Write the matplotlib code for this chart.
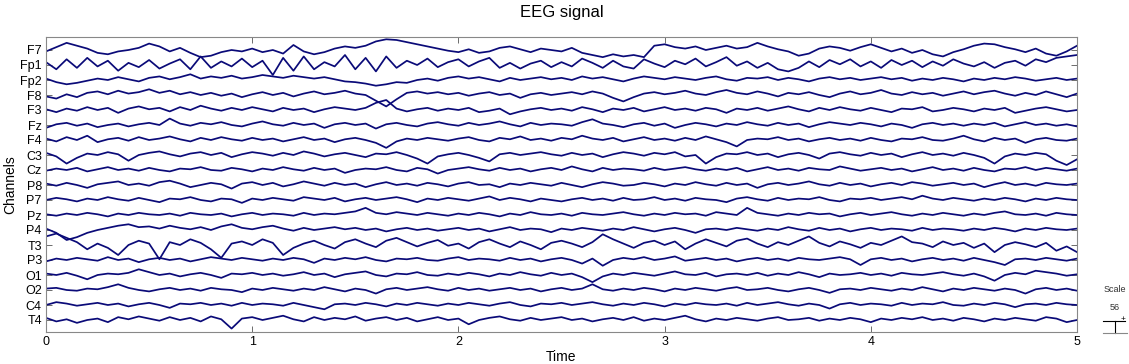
import numpy as np
import matplotlib
matplotlib.use("Agg")
import matplotlib.pyplot as plt
from matplotlib.lines import Line2D

plt.rcParams["font.family"] = ["Liberation Sans", "DejaVu Sans"]

# channel names, top to bottom
channels = ["F7", "Fp1", "Fp2", "F8", "F3", "Fz", "F4", "C3", "Cz", "P8",
            "P7", "Pz", "P4", "T3", "P3", "O1", "O2", "C4", "T4"]

# time axis: 0..5 s, 0.05 s step (101 samples)
t = np.arange(101) * 0.05

# traces, in display units (21 units = channel spacing)
F7 = [-2, 4, 10, 6, 2, -4, -6, -2, 0, 3,
      9, 5, -2, 3, -4, -10, -8, -3, 0, -2,
      2, -3, 0, -5, 7, -2, -6, -3, 2, 5,
      3, 6, 12, 15, 14, 11, 8, 5, 2, -1,
      -3, 1, -4, -2, 3, 5, 1, -3, 2, 0,
      -2, 3, -4, -7, -10, -6, -9, -7, -10, 6,
      8, 4, 2, 5, 0, 3, 6, 2, 4, 10,
      5, 1, -2, -8, -5, 2, 5, 3, -1, 4,
      8, 3, -2, 2, -4, 0, -6, -9, -3, 1,
      6, 9, 8, 4, 1, -3, 2, -5, -8, -2,
      6]
Fp1 = [4, -6, 8, -4, 10, -2, 6, -8, 3, -3,
       7, -5, 2, 8, -6, 12, -4, 5, -2, 9,
       -3, 6, -14, 10, -8, 12, -6, 4, -2, 14,
       -6, 10, -9, 12, -4, 6, 0, 9, -3, 4,
       8, -2, 5, 10, -4, 3, -5, 2, 6, -3,
       4, -2, 9, 3, -4, 6, -2, -5, 8, 2,
       -3, 6, 1, 9, -2, 4, 11, -1, 5, -4,
       3, -6, -9, -4, 5, -3, 7, 1, 8, -2,
       5, -4, 7, 0, 6, -3, 5, -1, 8, 2,
       -2, 4, -4, 3, 6, -1, 8, 4, 10, 12,
       14]
Fp2 = [2, -3, -6, -4, -1, 2, 0, 4, 1, -2,
       3, 5, 1, 4, 8, 2, 5, 3, 6, 2,
       4, 7, 5, 3, 6, 4, 2, 4, 1, -2,
       -3, -5, -8, -6, -3, -4, 0, 2, -1, 3,
       5, 2, 4, 1, -2, 3, 0, 2, 4, 1,
       3, 0, 5, 2, 4, 1, -2, 2, 5, 3,
       1, 4, 2, 0, 3, 5, 1, -1, 3, 2,
       4, 0, 3, 1, -2, 2, 4, 1, 3, 0,
       2, 4, 1, 3, -1, 2, 0, 3, 1, -2,
       2, 0, 3, 1, 4, 2, -1, 1, 3, 0,
       2]
F8 = [-2, -5, 1, -3, 3, 5, 1, 6, 2, 4,
      8, 3, 6, 1, 4, 0, 3, -1, 2, -3,
      1, 4, 0, 3, -2, 2, 5, 1, 3, 6,
      2, 0, -8, -16, -6, 3, 5, 2, 4, 1,
      3, -1, 2, 4, 0, 2, -4, 1, 3, 0,
      2, 4, 1, 5, 2, -4, -9, -3, 2, 4,
      1, 3, 6, 2, 0, 4, 7, 3, 1, 5,
      2, -2, 3, 1, 4, 0, -3, 2, 5, 1,
      3, 7, 2, 0, 4, 1, 3, -1, 2, 5,
      1, 4, 6, 2, -1, 3, 0, 5, 1, -3,
      2]
F3 = [1, -3, 2, -1, 4, 0, 3, -4, 2, 5,
      1, 3, -2, 4, 0, 6, 2, -1, 3, 0,
      4, 1, -2, 3, 0, 2, -3, 1, 4, 2,
      0, 3, 10, 14, 2, -2, 1, 3, -1, 2,
      0, 3, -3, -1, 2, -6, -2, 1, 3, 0,
      2, -1, 4, 1, -3, 2, 0, 3, -2, 1,
      4, 0, 2, -1, 3, 1, -4, 2, 0, 3,
      -1, 2, 5, 1, -2, 3, 0, 4, 1, -1,
      3, 0, -3, 2, 1, 4, -2, 0, 3, 1,
      -2, 2, 0, 3, -4, -1, 2, 4, 1, -2,
      0]
Fz = [-4, 1, 3, -1, 2, -3, 0, 2, -2, 1,
      3, 0, 9, 2, -1, 3, 1, 4, 0, -2,
      2, 5, 1, -1, 3, 0, 2, -4, 1, 3,
      0, 2, -5, 1, 3, 0, -2, 2, 4, 1,
      -1, 3, 0, 2, 5, 1, -2, 3, 0, 2,
      1, -1, 4, 8, 2, 0, -3, 1, 3, -1,
      2, -4, 0, 3, 1, -2, 2, 0, 4, 1,
      -1, 3, 0, 2, -3, 1, 4, 2, 0, 3,
      1, -2, 2, 0, -4, 1, 3, 0, 2, -1,
      2, 0, 3, -2, 1, 4, 0, 2, -1, 1,
      -2]
F4 = [2, -2, 4, 0, 6, -3, 1, 3, -1, 4,
      0, 2, 5, 1, -2, 3, 0, 4, 1, -1,
      3, 0, 2, -2, 1, 4, 0, 2, -3, 1,
      3, 0, -4, -11, -2, 2, 0, 3, 1, -1,
      2, 4, 0, -2, 3, 1, 5, 0, 2, -1,
      3, 1, 6, 2, 0, 3, -2, 1, 4, 0,
      2, -1, 3, 0, 5, 1, -3, -9, 0, 2,
      1, 4, 0, 2, -2, 1, 3, 0, 2, -1,
      3, 0, -2, 2, 1, 4, 0, -1, 2, 6,
      1, -2, 3, 0, 2, -4, 1, 3, 0, -1,
      2]
C3 = [3, -2, -12, -4, 2, 0, 4, 1, -8, 0,
      3, 5, 1, -2, 2, 4, 0, 3, -3, 1,
      4, 2, -1, 3, 0, 5, 2, -2, 1, 3,
      0, -3, 2, 1, 4, 0, -5, -12, -2, 1,
      3, 0, -4, -9, 1, 3, 0, 2, 4, 1,
      -1, 3, 0, 2, -3, 1, 4, 2, -1, 3,
      1, 4, -2, 0, -12, -3, 2, 1, 4, 0,
      2, -3, 1, 3, 0, -5, 2, 4, 1, -1,
      3, 0, 2, -3, 1, 4, 0, 2, -1, 3,
      0, -4, -12, -2, 2, 0, 3, 1, -8, -14,
      -6]
Cz = [-1, 2, 0, 3, -2, 1, 4, 0, 2, -1,
      3, 0, -2, 2, 1, 4, 0, -1, 3, 1,
      -2, 2, 0, 4, 1, -1, 3, 0, 2, -4,
      0, 2, 1, 4, 0, -2, 3, 1, -5, 0,
      2, 4, 1, -1, 3, 0, 2, -2, 1, 3,
      0, 5, 1, -2, 3, 0, 2, 1, -1, 3,
      0, 2, 4, 1, -1, 2, 0, 3, -2, 1,
      4, 0, 2, -1, 3, 1, 0, 5, 2, -1,
      1, 3, 0, 2, -2, 1, 4, 0, 2, -1,
      3, 0, -2, 2, 1, 4, 0, 3, 1, -1,
      2]
P8 = [2, -1, 3, 0, -4, 1, 3, 5, 0, 2,
      -1, 4, 6, 2, -3, 0, 3, 1, -5, 2,
      4, 0, 3, -2, 1, 5, 2, -1, 3, 0,
      2, -3, 1, 4, 0, 2, -1, 3, 1, -2,
      2, 4, 0, 1, -3, 2, 0, 3, 1, -1,
      3, 0, -3, 1, 4, 2, -1, 0, 3, 1,
      -2, 2, 0, 4, 1, -1, 3, 0, 2, -4,
      1, 3, 0, 2, 5, 1, -1, 3, 0, 2,
      -2, 1, 3, 0, 4, 2, -1, 1, 3, 0,
      2, -3, 1, 4, 0, 2, -1, 3, 1, 0,
      2]
P7 = [0, 3, 1, -2, 2, 0, 4, 1, -1, 3,
      0, -3, 2, 1, 4, 0, -2, 2, 1, -4,
      2, 0, 3, 1, -1, 4, 2, 0, 3, -2,
      1, 3, 0, 2, 4, 1, -3, 2, 0, 3,
      1, -1, 2, 5, 0, 3, 1, -2, 2, 0,
      -2, 1, 3, 0, 2, -1, 3, 0, 1, 4,
      0, 2, -1, 3, 1, 0, -3, 2, 4, 1,
      -1, 3, 0, 2, 1, 4, 0, -2, 2, 1,
      3, 0, 2, 4, 1, 6, 2, 0, 3, 1,
      -1, 2, 0, 3, 1, -2, 2, 0, 3, 1,
      0]
Pz = [1, -1, 2, 0, 3, 1, -2, 2, 0, 3,
      1, 0, 2, -1, 3, 1, 0, 2, -2, 1,
      3, 0, 2, 1, -1, 3, 0, 2, 1, 3,
      5, 10, 3, 1, 4, 2, 0, 3, 1, -1,
      2, 0, 3, 1, -2, 2, 0, 4, 1, 0,
      2, -1, 3, 1, 0, 2, 4, 1, -1, 2,
      0, 3, 1, 2, -1, 4, 2, 0, 10, 3,
      1, -1, 2, 0, 3, 1, 2, -2, 1, 3,
      0, 2, 4, 1, -1, 2, 0, 3, 1, -1,
      2, 0, 3, 5, 1, 0, 2, -1, 3, 1,
      0]
P4 = [2, -4, -14, -10, -4, 0, 3, 6, 8, 4,
      5, 2, 6, 3, 1, 4, 0, 5, 8, 3,
      1, 4, 6, 2, -1, 3, 0, 2, 4, 1,
      3, 0, 2, -2, 1, 3, 0, 2, -1, 1,
      3, 0, 2, -2, 1, 4, 0, 2, 1, -3,
      2, 0, 3, 1, -1, 2, 0, 4, 1, -2,
      1, 3, 0, -4, 1, 2, 0, 3, 1, -1,
      2, 0, 4, 1, -1, 3, 0, 2, -2, 1,
      3, 0, 2, 1, -1, 3, 0, 2, 1, -1,
      2, 0, 3, 1, -2, 2, 0, 3, 1, 0,
      2]
T3 = [12, 16, 10, 4, -6, 2, -4, -14, 0, 6,
      2, -20, 4, 0, 8, 3, -6, -18, 2, 5,
      0, 8, 3, -14, -4, 2, 6, 0, -5, 4,
      8, 2, -3, 6, 10, 4, -2, 3, 7, -1,
      2, -5, 4, 8, 2, -3, 5, 0, -6, 3,
      6, 2, -3, 4, 15, 8, 2, -4, 3, 6,
      0, 5, -6, 2, 8, 3, -2, 6, 9, 2,
      -3, 4, 0, 6, 12, 3, -2, 5, 1, -4,
      3, 0, 6, 12, 4, 2, -3, 5, 0, 3,
      -4, 2, -10, 0, 4, 1, -3, 3, -8, -2,
      -10]
P3 = [-2, 2, 0, 3, 1, -1, 4, 0, 2, -3,
      1, 3, 0, 2, -2, 1, 4, 2, 0, 3,
      1, -1, 2, 0, 3, 1, -4, 2, 0, 3,
      1, 4, 0, -2, 2, 1, 3, 0, -1, 2,
      4, 0, 2, 1, -1, 3, 0, 2, -2, 1,
      3, 0, -5, 2, -8, 0, 3, 1, 4, 0,
      2, 5, -1, 1, 3, 0, 2, -2, 1, 3,
      0, 2, -1, 3, 1, 0, 2, 4, 1, -7,
      1, 3, 0, 2, -2, 1, 3, 0, 2, -1,
      3, 0, -3, -7, 1, 2, 0, 3, 1, -1,
      2]
O1 = [2, 0, 3, -1, -6, 0, 2, 1, 3, 8,
      4, 0, 2, -2, 1, 3, 0, -4, 2, 1,
      3, 0, 2, -1, 1, 4, 0, 2, -3, 1,
      3, 5, 0, -2, 2, 1, 4, 0, -1, 2,
      0, 3, 1, -2, 2, 0, 4, 1, -1, 3,
      0, 2, -3, -10, -2, 2, 0, 3, 1, -1,
      2, 5, 1, 0, 3, -2, 1, 2, 0, 3,
      -1, 2, 0, 4, 1, -3, 2, 0, 1, 3,
      0, 2, -1, 3, 1, 0, 2, 4, 1, -1,
      2, -2, -8, 0, 3, 1, 6, 4, 2, -1,
      1]
O2 = [2, 3, 0, -1, 2, 1, 4, 8, 3, 0,
      -2, 1, 3, 0, 2, -1, 3, 1, 0, -3,
      2, 0, 3, 1, -1, 2, 0, 4, 1, -2,
      2, 0, -5, 1, 3, 0, 2, 4, 1, -1,
      3, 0, 2, -1, 1, 3, 0, 2, -2, 1,
      3, 0, 2, 8, 1, -1, 2, 0, 3, 1,
      -2, 2, 0, 3, 1, -1, 2, 4, 0, 1,
      3, 0, -2, 1, 3, 0, -4, 1, 2, 0,
      3, 1, -1, 2, 0, 4, 1, -2, 2, 0,
      3, 1, -1, 2, 0, -5, 1, 3, 0, 2,
      -1]
C4 = [0, 4, 2, -1, 1, 3, 0, 2, -2, 1,
      3, 0, -4, 2, 1, 3, 0, 2, -1, 3,
      0, 2, 1, -1, 3, 0, -3, -6, 1, 2,
      0, 3, 1, -2, 2, 0, 3, 1, -1, 2,
      0, 3, 1, -1, 2, 4, 0, -2, 2, 1,
      3, 0, 2, 4, 1, -1, 2, 0, 3, 1,
      -2, 2, 0, 3, 1, 0, 2, -1, 3, 0,
      2, 4, 1, -1, 2, 0, -5, 1, 3, 0,
      2, 1, -1, 3, 0, 2, 1, 4, 0, -1,
      2, 0, 3, 1, -3, 1, 2, 0, 3, 1,
      0]
T4 = [3, -2, 1, -4, 0, 2, -3, 4, 1, 5,
      2, -1, 4, 0, 3, -2, 5, 1, -12, 2,
      4, 0, 3, 6, 1, -2, 4, 0, 3, 1,
      5, -1, 2, 4, 0, 3, -2, 1, 4, 0,
      2, -6, 0, 3, 5, 1, -1, 3, 0, 2,
      4, 0, 2, -2, 1, 3, 0, 4, -1, 2,
      0, 3, 6, 1, -2, 2, 0, 3, 1, -1,
      2, 4, 0, 1, 3, -1, 2, 0, 3, 1,
      -3, 2, 0, 3, 1, 4, 0, 2, -1, 3,
      1, -2, 2, 0, 3, 1, -1, 4, 2, -3,
      0]

traces = [F7, Fp1, Fp2, F8, F3, Fz, F4, C3, Cz, P8,
          P7, Pz, P4, T3, P3, O1, O2, C4, T4]

SCALE = 56          # uV between channel baselines (shown in the scale box)
UNIT = SCALE / 21   # uV per display unit
W, H = 1129, 364

fig = plt.figure(figsize=(W / 100, H / 100), dpi=100)
ax = fig.add_axes([46 / W, 1 - 332 / H, (1077 - 46) / W, (332 - 37) / H])

n = len(channels)
offsets = [(n - 1 - i) * SCALE for i in range(n)]
for sig, off in zip(traces, offsets):
    ax.plot(t, np.asarray(sig) * UNIT + off, color="#0a0a78", lw=1.25)

px = SCALE / 15   # uV per pixel in the vertical direction
ax.set_xlim(0, 5)
ax.set_ylim(-12 * px, offsets[0] + 13 * px)
ax.set_yticks(offsets)
ax.set_yticklabels(channels, fontsize=9)
ax.set_xticks([0, 1, 2, 3, 4, 5])
ax.set_xticklabels(["0", "1", "2", "3", "4", "5"], fontsize=9)
ax.tick_params(direction="in", length=4, width=0.6, color="#555555",
               top=True, right=True, pad=3)
for s in ax.spines.values():
    s.set_color("#888888")
    s.set_linewidth(0.8)

ax.set_xlabel("Time", fontsize=10, labelpad=1)
ax.set_ylabel("Channels", fontsize=10, labelpad=2)
fig.text((46 + 1077) / 2 / W, 1 - 12 / H, "EEG signal", ha="center", va="center",
         fontsize=12)

# scale box at the bottom right
def fx(x): return x / W
def fy(y): return 1 - y / H

fig.text(fx(1115), fy(290), "Scale", ha="center", va="center", fontsize=6.5,
         color="#333333")
fig.text(fx(1115), fy(307), str(SCALE), ha="center", va="center", fontsize=6.5,
         color="#333333")
fig.add_artist(Line2D([fx(1103), fx(1125)], [fy(321), fy(321)], color="black", lw=0.8))
fig.add_artist(Line2D([fx(1115), fx(1115)], [fy(321), fy(333)], color="black", lw=0.8))
fig.add_artist(Line2D([fx(1103), fx(1127)], [fy(333), fy(333)], color="#888888", lw=0.8))
fig.text(fx(1123), fy(320), "+", ha="center", va="center", fontsize=6, color="black")

fig.savefig("out.png", dpi=100)
